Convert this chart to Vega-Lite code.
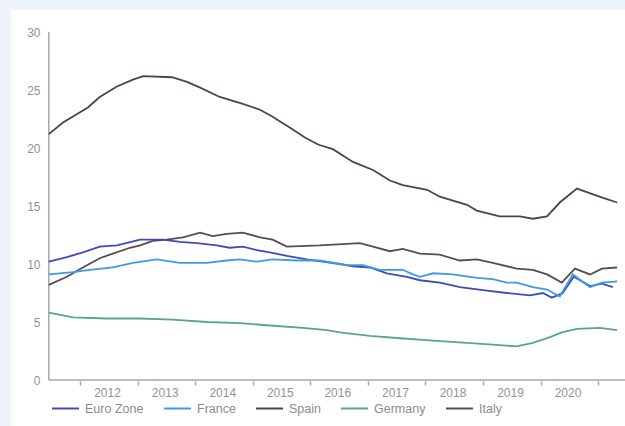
{
  "$schema": "https://vega.github.io/schema/vega-lite/v6.json",
  "width": 614,
  "height": 416,
  "autosize": {"type": "none"},
  "padding": {"left": 11, "top": 10, "right": 0, "bottom": 0},
  "background": "#eef2fa",
  "config": {
    "view": {"fill": "white", "stroke": null},
    "font": "Liberation Sans"
  },
  "layer": [
    {
      "data": {"values": [{}]},
      "mark": {"type": "rule", "color": "#a6a6a6", "strokeWidth": 1.5},
      "encoding": {
        "x": {"datum": {"year": 2011, "month": 6, "date": 17}, "type": "temporal"},
        "y": {"datum": 0, "type": "quantitative"},
        "y2": {"datum": 30}
      }
    },
    {
      "data": {"values": [{}]},
      "mark": {"type": "rule", "color": "#a6a6a6", "strokeWidth": 1.5},
      "encoding": {
        "x": {"datum": {"year": 2011, "month": 6, "date": 17}, "type": "temporal"},
        "x2": {"datum": {"year": 2021, "month": 6, "date": 20}},
        "y": {"datum": 0, "type": "quantitative"}
      }
    },
    {
      "data": {
        "values": [
          {"country": "Spain", "date": "2011-06-17", "value": 21.2},
          {"country": "Spain", "date": "2011-09-15", "value": 22.2},
          {"country": "Spain", "date": "2012-02-20", "value": 23.5},
          {"country": "Spain", "date": "2012-05-05", "value": 24.4},
          {"country": "Spain", "date": "2012-08-22", "value": 25.3},
          {"country": "Spain", "date": "2012-12-02", "value": 25.9},
          {"country": "Spain", "date": "2013-02-04", "value": 26.2},
          {"country": "Spain", "date": "2013-08-06", "value": 26.1},
          {"country": "Spain", "date": "2013-11-10", "value": 25.7},
          {"country": "Spain", "date": "2014-02-01", "value": 25.2},
          {"country": "Spain", "date": "2014-06-06", "value": 24.4},
          {"country": "Spain", "date": "2014-10-30", "value": 23.8},
          {"country": "Spain", "date": "2015-02-16", "value": 23.3},
          {"country": "Spain", "date": "2015-05-07", "value": 22.7},
          {"country": "Spain", "date": "2015-09-12", "value": 21.6},
          {"country": "Spain", "date": "2015-11-28", "value": 20.9},
          {"country": "Spain", "date": "2016-02-19", "value": 20.3},
          {"country": "Spain", "date": "2016-05-23", "value": 19.9},
          {"country": "Spain", "date": "2016-09-28", "value": 18.8},
          {"country": "Spain", "date": "2017-02-02", "value": 18.1},
          {"country": "Spain", "date": "2017-05-20", "value": 17.2},
          {"country": "Spain", "date": "2017-08-10", "value": 16.8},
          {"country": "Spain", "date": "2018-01-11", "value": 16.4},
          {"country": "Spain", "date": "2018-04-02", "value": 15.8},
          {"country": "Spain", "date": "2018-09-21", "value": 15.1},
          {"country": "Spain", "date": "2018-11-23", "value": 14.6},
          {"country": "Spain", "date": "2019-04-17", "value": 14.1},
          {"country": "Spain", "date": "2019-08-22", "value": 14.1},
          {"country": "Spain", "date": "2019-11-13", "value": 13.9},
          {"country": "Spain", "date": "2020-02-11", "value": 14.1},
          {"country": "Spain", "date": "2020-05-02", "value": 15.3},
          {"country": "Spain", "date": "2020-08-19", "value": 16.5},
          {"country": "Spain", "date": "2020-10-21", "value": 16.2},
          {"country": "Spain", "date": "2021-02-01", "value": 15.7},
          {"country": "Spain", "date": "2021-05-01", "value": 15.3},

          {"country": "Italy", "date": "2011-06-17", "value": 8.2},
          {"country": "Italy", "date": "2011-10-10", "value": 8.9},
          {"country": "Italy", "date": "2012-01-19", "value": 9.7},
          {"country": "Italy", "date": "2012-05-05", "value": 10.5},
          {"country": "Italy", "date": "2012-07-27", "value": 10.9},
          {"country": "Italy", "date": "2012-11-13", "value": 11.4},
          {"country": "Italy", "date": "2013-01-16", "value": 11.6},
          {"country": "Italy", "date": "2013-04-07", "value": 12.0},
          {"country": "Italy", "date": "2013-07-04", "value": 12.1},
          {"country": "Italy", "date": "2013-10-15", "value": 12.3},
          {"country": "Italy", "date": "2014-02-01", "value": 12.7},
          {"country": "Italy", "date": "2014-04-22", "value": 12.4},
          {"country": "Italy", "date": "2014-07-20", "value": 12.6},
          {"country": "Italy", "date": "2014-10-30", "value": 12.7},
          {"country": "Italy", "date": "2015-02-16", "value": 12.3},
          {"country": "Italy", "date": "2015-05-07", "value": 12.1},
          {"country": "Italy", "date": "2015-08-05", "value": 11.5},
          {"country": "Italy", "date": "2016-03-01", "value": 11.6},
          {"country": "Italy", "date": "2016-11-11", "value": 11.8},
          {"country": "Italy", "date": "2017-02-02", "value": 11.5},
          {"country": "Italy", "date": "2017-05-20", "value": 11.1},
          {"country": "Italy", "date": "2017-08-10", "value": 11.3},
          {"country": "Italy", "date": "2017-11-27", "value": 10.9},
          {"country": "Italy", "date": "2018-04-02", "value": 10.8},
          {"country": "Italy", "date": "2018-08-07", "value": 10.3},
          {"country": "Italy", "date": "2018-11-23", "value": 10.4},
          {"country": "Italy", "date": "2019-03-04", "value": 10.1},
          {"country": "Italy", "date": "2019-08-03", "value": 9.6},
          {"country": "Italy", "date": "2019-11-13", "value": 9.5},
          {"country": "Italy", "date": "2020-02-11", "value": 9.1},
          {"country": "Italy", "date": "2020-05-15", "value": 8.4},
          {"country": "Italy", "date": "2020-08-06", "value": 9.6},
          {"country": "Italy", "date": "2020-11-10", "value": 9.1},
          {"country": "Italy", "date": "2021-01-25", "value": 9.6},
          {"country": "Italy", "date": "2021-05-01", "value": 9.7},

          {"country": "Euro Zone", "date": "2011-06-17", "value": 10.2},
          {"country": "Euro Zone", "date": "2011-10-10", "value": 10.6},
          {"country": "Euro Zone", "date": "2012-01-19", "value": 11.0},
          {"country": "Euro Zone", "date": "2012-05-05", "value": 11.5},
          {"country": "Euro Zone", "date": "2012-08-22", "value": 11.6},
          {"country": "Euro Zone", "date": "2013-01-16", "value": 12.1},
          {"country": "Euro Zone", "date": "2013-06-10", "value": 12.1},
          {"country": "Euro Zone", "date": "2013-09-26", "value": 11.9},
          {"country": "Euro Zone", "date": "2014-01-12", "value": 11.8},
          {"country": "Euro Zone", "date": "2014-05-17", "value": 11.6},
          {"country": "Euro Zone", "date": "2014-08-08", "value": 11.4},
          {"country": "Euro Zone", "date": "2014-10-30", "value": 11.5},
          {"country": "Euro Zone", "date": "2015-01-28", "value": 11.2},
          {"country": "Euro Zone", "date": "2015-04-19", "value": 11.0},
          {"country": "Euro Zone", "date": "2015-08-05", "value": 10.7},
          {"country": "Euro Zone", "date": "2015-12-10", "value": 10.4},
          {"country": "Euro Zone", "date": "2016-03-20", "value": 10.2},
          {"country": "Euro Zone", "date": "2016-07-06", "value": 10.0},
          {"country": "Euro Zone", "date": "2016-09-28", "value": 9.8},
          {"country": "Euro Zone", "date": "2017-01-14", "value": 9.7},
          {"country": "Euro Zone", "date": "2017-05-01", "value": 9.2},
          {"country": "Euro Zone", "date": "2017-09-05", "value": 8.9},
          {"country": "Euro Zone", "date": "2017-11-27", "value": 8.6},
          {"country": "Euro Zone", "date": "2018-04-02", "value": 8.4},
          {"country": "Euro Zone", "date": "2018-08-07", "value": 8.0},
          {"country": "Euro Zone", "date": "2019-01-26", "value": 7.7},
          {"country": "Euro Zone", "date": "2019-06-01", "value": 7.5},
          {"country": "Euro Zone", "date": "2019-10-25", "value": 7.3},
          {"country": "Euro Zone", "date": "2020-01-16", "value": 7.5},
          {"country": "Euro Zone", "date": "2020-03-13", "value": 7.1},
          {"country": "Euro Zone", "date": "2020-05-21", "value": 7.5},
          {"country": "Euro Zone", "date": "2020-07-30", "value": 8.9},
          {"country": "Euro Zone", "date": "2020-11-10", "value": 8.1},
          {"country": "Euro Zone", "date": "2021-01-25", "value": 8.3},
          {"country": "Euro Zone", "date": "2021-04-04", "value": 8.0},

          {"country": "France", "date": "2011-06-17", "value": 9.1},
          {"country": "France", "date": "2011-11-17", "value": 9.3},
          {"country": "France", "date": "2012-03-03", "value": 9.5},
          {"country": "France", "date": "2012-07-27", "value": 9.7},
          {"country": "France", "date": "2012-12-02", "value": 10.1},
          {"country": "France", "date": "2013-05-02", "value": 10.4},
          {"country": "France", "date": "2013-09-26", "value": 10.1},
          {"country": "France", "date": "2014-03-15", "value": 10.1},
          {"country": "France", "date": "2014-07-20", "value": 10.3},
          {"country": "France", "date": "2014-10-11", "value": 10.4},
          {"country": "France", "date": "2015-01-28", "value": 10.2},
          {"country": "France", "date": "2015-05-07", "value": 10.4},
          {"country": "France", "date": "2015-10-07", "value": 10.3},
          {"country": "France", "date": "2016-03-01", "value": 10.3},
          {"country": "France", "date": "2016-08-20", "value": 9.9},
          {"country": "France", "date": "2016-12-01", "value": 9.9},
          {"country": "France", "date": "2017-03-17", "value": 9.5},
          {"country": "France", "date": "2017-08-10", "value": 9.5},
          {"country": "France", "date": "2017-10-13", "value": 9.1},
          {"country": "France", "date": "2017-11-27", "value": 8.9},
          {"country": "France", "date": "2018-02-18", "value": 9.2},
          {"country": "France", "date": "2018-06-23", "value": 9.1},
          {"country": "France", "date": "2018-11-23", "value": 8.8},
          {"country": "France", "date": "2019-03-04", "value": 8.7},
          {"country": "France", "date": "2019-06-01", "value": 8.4},
          {"country": "France", "date": "2019-08-03", "value": 8.4},
          {"country": "France", "date": "2019-11-13", "value": 8.0},
          {"country": "France", "date": "2020-02-11", "value": 7.8},
          {"country": "France", "date": "2020-05-02", "value": 7.2},
          {"country": "France", "date": "2020-07-24", "value": 9.1},
          {"country": "France", "date": "2020-11-10", "value": 8.0},
          {"country": "France", "date": "2021-01-25", "value": 8.4},
          {"country": "France", "date": "2021-05-01", "value": 8.5},

          {"country": "Germany", "date": "2011-06-17", "value": 5.8},
          {"country": "Germany", "date": "2011-11-17", "value": 5.4},
          {"country": "Germany", "date": "2012-06-19", "value": 5.3},
          {"country": "Germany", "date": "2013-01-16", "value": 5.3},
          {"country": "Germany", "date": "2013-08-12", "value": 5.2},
          {"country": "Germany", "date": "2014-03-15", "value": 5.0},
          {"country": "Germany", "date": "2014-10-11", "value": 4.9},
          {"country": "Germany", "date": "2015-04-19", "value": 4.7},
          {"country": "Germany", "date": "2015-11-15", "value": 4.5},
          {"country": "Germany", "date": "2016-04-15", "value": 4.3},
          {"country": "Germany", "date": "2016-07-06", "value": 4.1},
          {"country": "Germany", "date": "2017-01-14", "value": 3.8},
          {"country": "Germany", "date": "2017-07-22", "value": 3.6},
          {"country": "Germany", "date": "2018-02-18", "value": 3.4},
          {"country": "Germany", "date": "2018-09-21", "value": 3.2},
          {"country": "Germany", "date": "2019-04-17", "value": 3.0},
          {"country": "Germany", "date": "2019-08-03", "value": 2.9},
          {"country": "Germany", "date": "2019-11-13", "value": 3.2},
          {"country": "Germany", "date": "2020-03-01", "value": 3.7},
          {"country": "Germany", "date": "2020-05-15", "value": 4.1},
          {"country": "Germany", "date": "2020-08-19", "value": 4.4},
          {"country": "Germany", "date": "2021-01-12", "value": 4.5},
          {"country": "Germany", "date": "2021-05-01", "value": 4.3}
        ]
      },
      "mark": {"type": "line", "strokeWidth": 1.8},
      "encoding": {
        "x": {
          "field": "date",
          "type": "temporal",
          "scale": {"domain": [{"year": 2010, "month": 10, "date": 20}, {"year": 2021, "month": 6, "date": 20}], "nice": false},
          "axis": {
            "title": null,
            "values": [
              {"year": 2012, "month": 1, "date": 1}, {"year": 2013, "month": 1, "date": 1},
              {"year": 2014, "month": 1, "date": 1}, {"year": 2015, "month": 1, "date": 1},
              {"year": 2016, "month": 1, "date": 1}, {"year": 2017, "month": 1, "date": 1},
              {"year": 2018, "month": 1, "date": 1}, {"year": 2019, "month": 1, "date": 1},
              {"year": 2020, "month": 1, "date": 1}, {"year": 2021, "month": 1, "date": 1}
            ],
            "format": "%Y",
            "labelExpr": "datum.label == '2021' ? '' : datum.label",
            "offset": -45,
            "domain": false,
            "grid": false,
            "ticks": true,
            "tickSize": 4,
            "tickColor": "#a6a6a6",
            "tickWidth": 1.5,
            "labelOffset": 27,
            "labelPadding": 2,
            "labelFlush": false,
            "labelOverlap": false,
            "labelColor": "#939393",
            "labelFontSize": 12,
            "labelFont": "Liberation Sans"
          }
        },
        "y": {
          "field": "value",
          "type": "quantitative",
          "scale": {"domain": [-3.9655, 31.8966], "nice": false, "zero": false},
          "axis": {
            "title": null,
            "values": [0, 5, 10, 15, 20, 25, 30],
            "offset": -38,
            "domain": false,
            "grid": false,
            "ticks": false,
            "tickSize": 0,
            "labelPadding": 9,
            "labelFlush": false,
            "labelOverlap": false,
            "labelColor": "#939393",
            "labelFontSize": 12,
            "labelFont": "Liberation Sans"
          }
        },
        "color": {
          "field": "country",
          "type": "nominal",
          "scale": {
            "domain": ["Euro Zone", "France", "Spain", "Germany", "Italy"],
            "range": ["#3f4db3", "#3d9be3", "#4f4446", "#5aa58f", "#574c50"]
          },
          "legend": {
            "title": null,
            "orient": "none",
            "legendX": 40,
            "legendY": 384,
            "direction": "horizontal",
            "padding": 0,
            "symbolType": "stroke",
            "symbolSize": 729,
            "symbolStrokeWidth": 2,
            "labelOffset": 5,
            "columnPadding": 16,
            "labelColor": "#8c8c8c",
            "labelFontSize": 12.5,
            "labelFont": "Liberation Sans"
          }
        }
      }
    }
  ]
}
